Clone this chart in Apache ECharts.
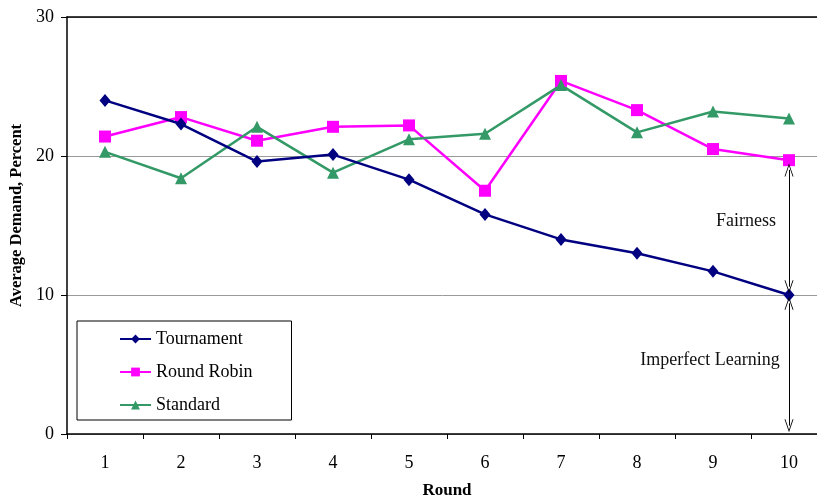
<!DOCTYPE html>
<html>
<head>
<meta charset="utf-8">
<script src="https://cdn.jsdelivr.net/npm/echarts@6/dist/echarts.min.js"></script>
<style>
html,body{margin:0;padding:0;background:#fff;}
#c{width:817px;height:497px;}
</style>
</head>
<body>
<div id="c"></div>
<script>
const rounds = ['1','2','3','4','5','6','7','8','9','10'];
const tournament = [24.0, 22.3, 19.6, 20.1, 18.3, 15.8, 14.0, 13.0, 11.7, 10.0];
const roundRobin = [21.4, 22.8, 21.1, 22.1, 22.2, 17.5, 25.4, 23.3, 20.5, 19.7];
const standard = [20.3, 18.4, 22.1, 18.8, 21.2, 21.6, 25.1, 21.7, 23.2, 22.7];
const fairnessArrow = [19.0, 10.6];
const learningArrow = [9.4, 0.6];
const fairnessLabel = ['Fairness', 15.3];
const learningLabel = ['Imperfect Learning', 5.27];

const FONT = '"Liberation Serif", "Times New Roman", serif';
const chevron = 'path://M5,0 L10,12 L9,12 L5,2.2 L1,12 L0,12 Z';

const chart = echarts.init(document.getElementById('c'), null, {renderer: 'canvas'});
chart.setOption({
  animation: false,
  backgroundColor: '#fff',
  textStyle: {fontFamily: FONT},
  grid: {left: 67, top: 17, right: -10, height: 417, containLabel: false, outerBoundsMode: 'none'},
  legend: {
    orient: 'vertical',
    left: 77, top: 321,
    padding: [9, 39, 6, 42],
    itemGap: 15,
    itemWidth: 31, itemHeight: 11,
    borderColor: '#000', borderWidth: 1,
    backgroundColor: '#fff',
    textStyle: {fontFamily: FONT, fontSize: 18, color: '#000'},
    data: ['Tournament', 'Round Robin', 'Standard']
  },
  xAxis: [{
    type: 'category',
    data: rounds,
    boundaryGap: true,
    name: 'Round',
    nameLocation: 'middle',
    nameGap: 48,
    nameTextStyle: {fontFamily: FONT, fontSize: 17, fontWeight: 'bold', color: '#000'},
    axisLine: {lineStyle: {color: '#000', width: 1.5}},
    axisTick: {show: true, length: 5, lineStyle: {color: '#000'}},
    axisLabel: {fontFamily: FONT, fontSize: 18, color: '#000', margin: 20},
    splitLine: {show: false}
  }, {
    type: 'category',
    data: rounds,
    position: 'top',
    axisLine: {show: true, lineStyle: {color: '#000', width: 1.5}},
    axisTick: {show: false},
    axisLabel: {show: false},
    splitLine: {show: false}
  }],
  yAxis: {
    type: 'value',
    min: 0, max: 30, interval: 10,
    name: 'Average Demand, Percent',
    nameLocation: 'middle',
    nameGap: 38,
    nameRotate: 90,
    nameTextStyle: {fontFamily: FONT, fontSize: 16.5, fontWeight: 'bold', color: '#000', padding: [0, 0, 0, 20]},
    axisLine: {show: true, lineStyle: {color: '#000', width: 1.5}},
    axisTick: {show: true, length: 6, lineStyle: {color: '#000'}},
    axisLabel: {fontFamily: FONT, fontSize: 18, color: '#000', margin: 13},
    splitLine: {show: true, lineStyle: {color: '#999', width: 1}}
  },
  series: [
    {
      name: 'Tournament', type: 'line', data: tournament,
      symbol: 'diamond', symbolSize: [11, 13],
      lineStyle: {color: '#000080', width: 2.5},
      itemStyle: {color: '#000080'},
      z: 4,
      markLine: {
        silent: true,
        symbol: [chevron, chevron],
        symbolSize: [9, 13],
        label: {show: false},
        lineStyle: {color: '#000', width: 1, type: 'solid'},
        data: [
          [{coord: ['10', fairnessArrow[0]]}, {coord: ['10', fairnessArrow[1]]}],
          [{coord: ['10', learningArrow[0]]}, {coord: ['10', learningArrow[1]]}]
        ]
      },
      markPoint: {
        silent: true,
        symbol: 'circle', symbolSize: 1,
        itemStyle: {color: 'rgba(0,0,0,0)'},
        label: {show: true, position: 'inside', fontFamily: FONT, fontSize: 18, color: '#111', formatter: p => p.name},
        data: [
          {name: fairnessLabel[0], coord: ['10', fairnessLabel[1]], label: {offset: [-43, 0]}},
          {name: learningLabel[0], coord: ['10', learningLabel[1]], label: {offset: [-79, 0]}}
        ]
      }
    },
    {
      name: 'Round Robin', type: 'line', data: roundRobin,
      symbol: 'rect', symbolSize: 12,
      lineStyle: {color: '#FF00FF', width: 2.5},
      itemStyle: {color: '#FF00FF'},
      z: 3
    },
    {
      name: 'Standard', type: 'line', data: standard,
      symbol: 'triangle', symbolSize: 12,
      lineStyle: {color: '#339966', width: 2.5},
      itemStyle: {color: '#339966'},
      z: 3
    }
  ]
});
</script>
</body>
</html>
